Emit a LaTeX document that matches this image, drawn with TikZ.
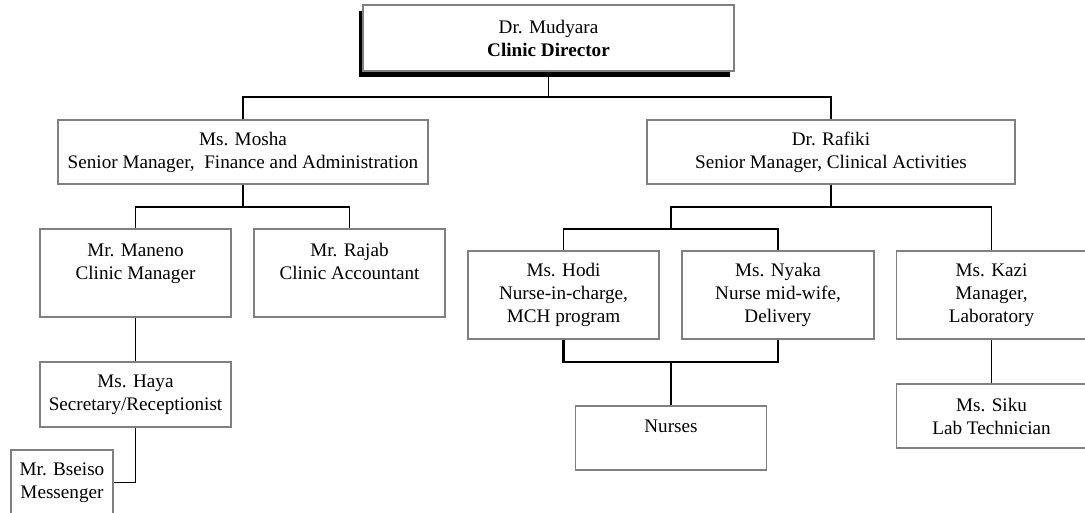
\documentclass[tikz,border=0pt]{standalone}
\usepackage{fontspec}
\setmainfont{Liberation Serif}
\usepackage{tikz}
\usetikzlibrary{shadows}

\begin{document}
\begin{tikzpicture}[x=0.6pt,y=-0.6pt,
    staff/.style={draw=black!50,line width=0.8pt,fill=white,align=center,inner sep=0pt,
                  font=\fontsize{11.5}{13.8}\selectfont},
    link/.style={draw=black,line width=0.8pt},
    heavylink/.style={draw=black,line width=1.5pt}]
   \useasboundingbox (0,0) rectangle (1085,512);
               \node[staff,minimum width=222.6pt,minimum height=39.6pt,
                     drop shadow={shadow xshift=-2.7pt,shadow yshift=-3.6pt,fill=black,opacity=1}]
                     (dir) at (548.5,38) {Dr. Mudyara\\\textbf{Clinic Director}};
               \node[staff,minimum width=222pt,minimum height=38.4pt] (mosha) at (243,152)
                     {Ms. Mosha\\Senior Manager,\ \ Finance and Administration};
               \node[staff,minimum width=220.8pt,minimum height=38.4pt] (rafiki) at (831,152)
                     {Dr. Rafiki\\Senior Manager, Clinical Activities};
               \node[staff,minimum width=114.6pt,minimum height=52.8pt] (maneno) at (135.5,273)
                     {Mr. Maneno\\Clinic Manager\\~};
               \node[staff,minimum width=114.6pt,minimum height=52.8pt] (rajab) at (349.5,273)
                     {Mr. Rajab\\Clinic Accountant\\~};
               \node[staff,minimum width=114.6pt,minimum height=39pt] (haya) at (135.5,394.5)
                     {Ms. Haya\\Secretary/Receptionist};
               \node[staff,minimum width=61.2pt,minimum height=39pt] (bseiso) at (62,482.5)
                     {Mr. Bseiso\\Messenger};
               \node[staff,minimum width=114.6pt,minimum height=52.8pt] (hodi) at (563.5,295)
                     {Ms. Hodi\\Nurse-in-charge,\\MCH program};
               \node[staff,minimum width=115.2pt,minimum height=52.8pt] (nyaka) at (778,295)
                     {Ms. Nyaka\\Nurse mid-wife,\\Delivery};
               \node[staff,minimum width=114pt,minimum height=52.8pt] (kazi) at (991.5,295)
                     {Ms. Kazi\\Manager,\\Laboratory};
               \node[staff,minimum width=114.6pt,minimum height=38.4pt] (nurses) at (671,438)
                     {Nurses\\~};
               \node[staff,minimum width=114pt,minimum height=38.4pt] (siku) at (991.5,416)
                     {Ms. Siku\\Lab Technician};
               % junction points
               \coordinate (topbus) at (548.5,97);
               \coordinate (mbus) at (243,207);
               \coordinate (rbus) at (831,207);
               \coordinate (nbus) at (671,229);
               \coordinate (nurbus) at (671,362);
		\draw[link] (dir.south) -- (topbus);
		\draw[link] (mosha.north) |- (topbus) -| (rafiki.north);
		\draw[link] (mosha.south) -- (mbus);
		\draw[link] (maneno.north) |- (mbus) -| (rajab.north);
		\draw[link] (maneno.south) -- (haya.north);
		\draw[link] (haya.south) |- (bseiso.east);
		\draw[link] (rafiki.south) -- (rbus);
		\draw[link] (nbus) |- (rbus) -| (kazi.north);
		\draw[link] (hodi.north) |- (nbus) -| (nyaka.north);
		\draw[heavylink] (hodi.south) |- (nurbus) -| (nyaka.south);
		\draw[link] (nurbus) -- (nurses.north);
		\draw[link] (kazi.south) -- (siku.north);
            \end{tikzpicture}
\end{document}
